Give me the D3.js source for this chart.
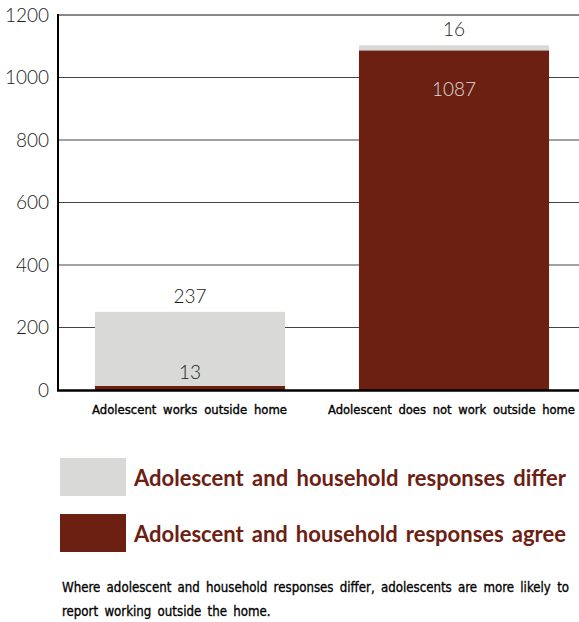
<!DOCTYPE html>
<html><head><meta charset="utf-8">
<script src="https://cdn.jsdelivr.net/npm/d3@7"></script>
<style>body{margin:0;background:#fff}svg{display:block}</style>
</head><body>
<svg id="c" width="579" height="622"></svg>
<script>
const categories = ["Adolescent works outside home", "Adolescent does not work outside home"];
const agree = [13, 1087];
const differ = [237, 16];
const seriesNames = ["Adolescent and household responses differ", "Adolescent and household responses agree"];
const yTicks = [0, 200, 400, 600, 800, 1000, 1200];
const caption = ["Where adolescent and household responses differ, adolescents are more likely to", "report working outside the home."];

const RED = "#6B2012", GREY = "#D9D9D8";
const svg = d3.select("#c");
const x = d3.scaleBand().domain(categories).range([58, 586]).paddingInner(0.28).paddingOuter(0.14);
const y = d3.scaleLinear().domain([0, 1200]).range([390, 15]);

const numFont = "Lato, 'Open Sans', sans-serif";
const narrow = "'DejaVu Sans Condensed', 'Liberation Sans Narrow', sans-serif";

// fit text to width w with word spacing ws by scaling font size (capped at maxFs)
function fitWords(node, w, ws, maxFs) {
  const sel = d3.select(node);
  const spaces = (sel.text().match(/ /g) || []).length;
  sel.attr("font-size", 20).attr("word-spacing", 0);
  const L = node.getComputedTextLength();
  let fs = 20 * (w - ws * spaces) / L;
  if (fs > maxFs) fs = maxFs;
  sel.attr("font-size", fs.toFixed(2));
  const L2 = node.getComputedTextLength();
  sel.attr("word-spacing", ((w - L2) / Math.max(spaces, 1)).toFixed(2));
  return fs;
}

// gridlines
svg.append("g").selectAll("line").data(yTicks.filter(d => d > 0)).join("line")
  .attr("x1", 58).attr("x2", 579).attr("y1", d => y(d)).attr("y2", d => y(d))
  .attr("stroke", d => d === 1200 ? "#111" : "#444").attr("stroke-width", 1);

// tick labels
svg.append("g").selectAll("text").data(yTicks).join("text")
  .attr("x", 49).attr("y", d => y(d)).attr("dy", "0.35em").attr("text-anchor", "end")
  .attr("font-family", numFont).attr("font-size", 19).attr("font-weight", 300).attr("fill", "#1a1a1a")
  .text(d => d);

// bars
const stacked = categories.map((c, i) => ({c, a: agree[i], d: differ[i]}));
const g = svg.append("g");
g.selectAll(".agree").data(stacked).join("rect")
  .attr("x", d => x(d.c)).attr("width", x.bandwidth())
  .attr("y", d => y(d.a)).attr("height", d => y(0) - y(d.a)).attr("fill", RED);
g.selectAll(".differ").data(stacked).join("rect")
  .attr("x", d => x(d.c)).attr("width", x.bandwidth())
  .attr("y", d => y(d.a + d.d)).attr("height", d => y(d.a) - y(d.a + d.d)).attr("fill", GREY);

// differ labels above bars
g.selectAll(".dl").data(stacked).join("text")
  .attr("x", d => x(d.c) + x.bandwidth()/2).attr("y", d => y(d.a + d.d) - 9)
  .attr("text-anchor", "middle").attr("font-family", numFont).attr("font-size", 19).attr("font-weight", 300).attr("fill", "#1a1a1a")
  .text(d => d.d);
// agree labels
g.selectAll(".al").data(stacked).join("text")
  .attr("x", d => x(d.c) + x.bandwidth()/2)
  .attr("y", d => d.a < 100 ? y(d.a) - 7 : y(d.a) + 46)
  .attr("text-anchor", "middle").attr("font-family", numFont).attr("font-size", 19).attr("font-weight", 300)
  .attr("fill", d => d.a < 100 ? "#1a1a1a" : "#ddd")
  .text(d => d.a);

// axes lines
svg.append("line").attr("x1", 58).attr("x2", 58).attr("y1", 14).attr("y2", 391).attr("stroke", "#000").attr("stroke-width", 2);
svg.append("line").attr("x1", 57).attr("x2", 579).attr("y1", 390.5).attr("y2", 390.5).attr("stroke", "#000").attr("stroke-width", 2.5);

// category labels
const catLeft = [92, 328];
const catW = [195, 247];
svg.append("g").selectAll("text").data(categories).join("text")
  .attr("x", (d, i) => catLeft[i]).attr("y", 414)
  .attr("font-family", narrow).attr("font-weight", 500).attr("fill", "#000")
  .attr("stroke", "#000").attr("stroke-width", 0.35)
  .text(d => d)
  .each(function(d, i){ fitWords(this, catW[i], 3, 15); });

// legend
const leg = svg.append("g");
const legColors = [GREY, RED];
seriesNames.forEach((n, i) => {
  leg.append("rect").attr("x", 60).attr("y", 458 + i*56).attr("width", 66).attr("height", 38).attr("fill", legColors[i]);
  const t = leg.append("text").attr("x", 134).attr("y", 486 + i*56)
    .attr("font-family", "Lato, 'Open Sans', sans-serif").attr("font-weight", 700).attr("fill", RED)
    .text(n);
  fitWords(t.node(), 432, 2.5, 22);
});

// caption
const cap = svg.append("g");
const c1 = cap.append("text").attr("x", 62).attr("y", 592)
  .attr("font-family", narrow).attr("font-weight", 500).attr("fill", "#000")
  .attr("stroke", "#000").attr("stroke-width", 0.3)
  .text(caption[0]);
const capFs = fitWords(c1.node(), 507, 2.5, 15);
const capWs = +c1.attr("word-spacing");
cap.append("text").attr("x", 62).attr("y", 616)
  .attr("font-family", narrow).attr("font-weight", 500).attr("fill", "#000")
  .attr("stroke", "#000").attr("stroke-width", 0.3)
  .attr("font-size", capFs.toFixed(2)).attr("word-spacing", capWs)
  .text(caption[1]);
</script>
</body></html>
